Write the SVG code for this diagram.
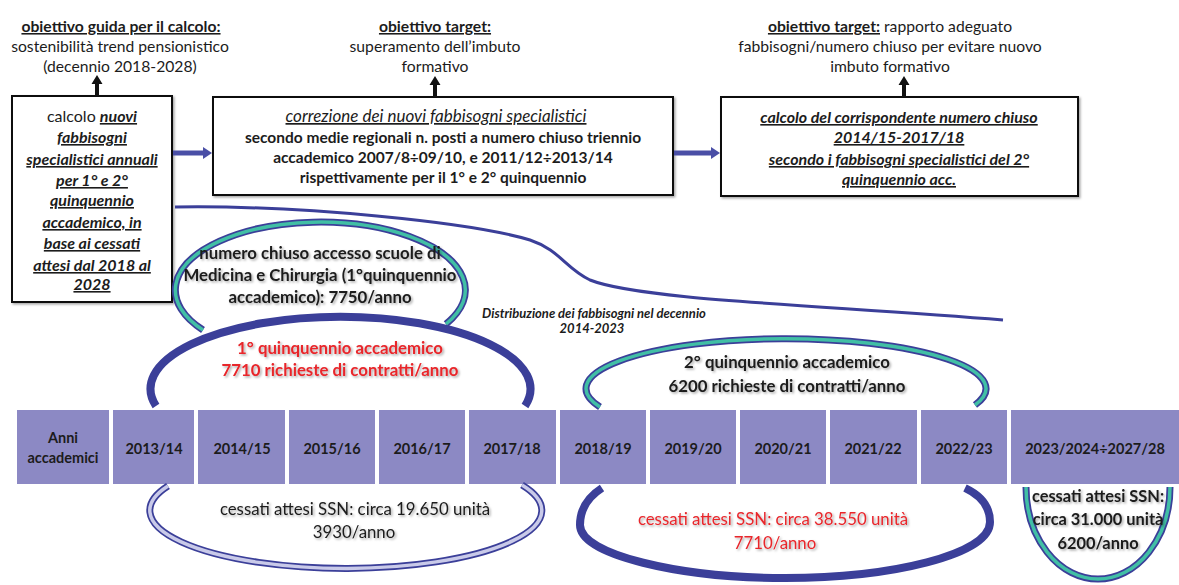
<svg xmlns="http://www.w3.org/2000/svg" width="1179" height="585" viewBox="0 0 1179 585">
<defs>
<style>
text{font-family:Lato,"Liberation Sans",sans-serif;fill:#1c1c1c;text-anchor:middle}
.n{font-size:15.7px}
.b{font-size:15.7px;font-weight:bold}
.u{text-decoration:underline}
.bi{font-size:16px;font-weight:bold;font-style:italic;text-decoration:underline}
.it{font-size:17px;font-style:italic;text-decoration:underline}
.mb{font-size:15.5px;font-weight:bold}
.box{fill:#fff;stroke:#111;stroke-width:2}
.cell{fill:#8c89c4}
.cl{font-size:14.5px;font-weight:bold}
.ab{font-size:16.8px;font-weight:bold}
.cs{font-size:16.8px}
.red{fill:#e8262b}
.navyline{fill:none;stroke:#3b3f99}
.tealin{fill:none;stroke:#41bfa5;stroke-width:3.5}
.lavin{fill:none;stroke:#c9cae9;stroke-width:3.5}
.dist{font-size:13px;font-weight:bold;font-style:italic}
.blue{stroke:#4a4fa6;stroke-width:5;fill:none}
.up{fill:#111}
</style>
<filter id="sh" x="-5%" y="-10%" width="115%" height="130%">
<feDropShadow dx="1.5" dy="1.5" stdDeviation="1" flood-color="#000" flood-opacity="0.35"/>
</filter>
<marker id="bh" markerUnits="userSpaceOnUse" markerWidth="10" markerHeight="14" refX="2" refY="7" orient="auto">
<path d="M0,1 L9,7 L0,13 Z" fill="#4a4fa6"/>
</marker>
</defs>
<rect width="1179" height="585" fill="#fff"/>

<!-- top objective texts -->
<g id="obj1">
<text class="b u" x="121" y="32">obiettivo guida per il calcolo:</text>
<text class="n" x="120" y="52">sostenibilità trend pensionistico</text>
<text class="n" x="120" y="72">(decennio 2018-2028)</text>
</g>
<g id="obj2">
<text class="b u" x="435" y="32">obiettivo target:</text>
<text class="n" x="435" y="52">superamento dell’imbuto</text>
<text class="n" x="435" y="72">formativo</text>
</g>
<g id="obj3">
<text class="n" x="890" y="32"><tspan class="b u">obiettivo target:</tspan> rapporto adeguato</text>
<text class="n" x="890" y="52">fabbisogni/numero chiuso per evitare nuovo</text>
<text class="n" x="890" y="72">imbuto formativo</text>
</g>

<!-- boxes -->
<g id="box-calcolo">
<rect class="box" x="12" y="96" width="160" height="206" filter="url(#sh)"/>
<text class="n" style="font-size:16px" x="92" y="122">calcolo <tspan class="bi">nuovi</tspan></text>
<text class="bi" x="92" y="143">fabbisogni</text>
<text class="bi" x="92" y="165">specialistici annuali</text>
<text class="bi" x="92" y="186">per 1° e 2°</text>
<text class="bi" x="92" y="206">quinquennio</text>
<text class="bi" x="92" y="228">accademico, in</text>
<text class="bi" x="92" y="249">base ai cessati</text>
<text class="bi" x="92" y="271">attesi dal 2018 al</text>
<text class="bi" x="92" y="290">2028</text>
</g>
<g id="box-correzione">
<rect class="box" x="213" y="97" width="460" height="98" filter="url(#sh)"/>
<text class="it" x="436" y="122">correzione dei nuovi fabbisogni specialistici</text>
<text class="mb" x="443" y="143">secondo medie regionali n. posti a numero chiuso triennio</text>
<text class="mb" x="443" y="163">accademico 2007/8÷09/10, e 2011/12÷2013/14</text>
<text class="mb" x="443" y="183">rispettivamente per il 1° e 2° quinquennio</text>
</g>
<g id="box-numero">
<rect class="box" x="721" y="97" width="357" height="99" filter="url(#sh)"/>
<text class="bi" x="899" y="123">calcolo del corrispondente numero chiuso</text>
<text class="bi" x="899" y="143">2014/15-2017/18</text>
<text class="bi" x="899" y="165"> secondo i fabbisogni specialistici del 2°</text>
<text class="bi" x="899" y="185">quinquennio acc.</text>
</g>

<!-- connectors -->
<g id="connectors">
<path class="up" d="M95,96 L95,84 L91.5,84 L97,75 L102.5,84 L99,84 L99,96 Z"/>
<path class="up" d="M433,97 L433,85 L429.5,85 L435,76 L440.5,85 L437,85 L437,97 Z"/>
<path class="up" d="M902,97 L902,85 L898.5,85 L904,76 L909.5,85 L906,85 L906,97 Z"/>
<line class="blue" x1="173" y1="153" x2="205" y2="153" marker-end="url(#bh)"/>
<line class="blue" x1="674" y1="153" x2="713" y2="153" marker-end="url(#bh)"/>
<path class="navyline" stroke-width="3" d="M175,207 C300,205 470,222 530,240 C560,250 565,268 590,280 C640,300 820,305 1003,320"/>
</g>

<!-- arc: numero chiuso -->
<g id="arc-numero-chiuso">
<path class="navyline" stroke-width="7" d="M203,330 A145,68 0 1 1 446,324"/>
<path class="tealin" d="M203,330 A145,68 0 1 1 446,324"/>
<g filter="url(#sh)">
<text class="ab" x="320" y="259">numero chiuso accesso scuole di</text>
<text class="ab" x="320" y="281">Medicina e Chirurgia (1°quinquennio</text>
<text class="ab" x="320" y="303">accademico): 7750/anno</text>
</g>
</g>

<g id="label-distribuzione">
<text class="dist" x="594" y="318">Distribuzione dei fabbisogni nel decennio</text>
<text class="dist" x="592" y="333">2014-2023</text>
</g>

<!-- arc: 1° quinquennio -->
<g id="arc-quinquennio1">
<path class="navyline" stroke-width="8" d="M156,406 A190,72 0 1 1 525,406"/>
<g filter="url(#sh)">
<text class="ab red" x="340" y="354">1° quinquennio accademico</text>
<text class="ab red" x="340" y="376">7710 richieste di contratti/anno</text>
</g>
</g>

<!-- arc: 2° quinquennio -->
<g id="arc-quinquennio2">
<path class="navyline" stroke-width="7" d="M600,407 A200,50 0 1 1 975,405"/>
<path class="tealin" d="M600,407 A200,50 0 1 1 975,405"/>
<g filter="url(#sh)">
<text class="ab" x="787" y="368">2° quinquennio accademico</text>
<text class="ab" x="787" y="392">6200 richieste di contratti/anno</text>
</g>
</g>

<!-- timeline -->
<g id="timeline">
<rect class="cell" x="17" y="410" width="92" height="74"/>
<rect class="cell" x="113" y="410" width="81" height="74"/>
<rect class="cell" x="198" y="410" width="87" height="74"/>
<rect class="cell" x="289" y="410" width="86" height="74"/>
<rect class="cell" x="379" y="410" width="86" height="74"/>
<rect class="cell" x="469" y="410" width="87" height="74"/>
<rect class="cell" x="560" y="410" width="86" height="74"/>
<rect class="cell" x="650" y="410" width="86" height="74"/>
<rect class="cell" x="740" y="410" width="86" height="74"/>
<rect class="cell" x="830" y="410" width="87" height="74"/>
<rect class="cell" x="921" y="410" width="86" height="74"/>
<rect class="cell" x="1011" y="410" width="168" height="74"/>
<text class="cl" x="63" y="443">Anni</text>
<text class="cl" x="63" y="463">accademici</text>
<text class="cl" x="154" y="454">2013/14</text>
<text class="cl" x="242" y="454">2014/15</text>
<text class="cl" x="332" y="454">2015/16</text>
<text class="cl" x="422" y="454">2016/17</text>
<text class="cl" x="512" y="454">2017/18</text>
<text class="cl" x="603" y="454">2018/19</text>
<text class="cl" x="693" y="454">2019/20</text>
<text class="cl" x="783" y="454">2020/21</text>
<text class="cl" x="873" y="454">2021/22</text>
<text class="cl" x="964" y="454">2022/23</text>
<text class="cl" x="1095" y="454">2023/2024÷2027/28</text>
</g>

<!-- bottom arcs -->
<g id="arc-cessati1">
<path class="navyline" stroke-width="7" d="M168,486 A196,58 0 1 0 522,485"/>
<path class="lavin" d="M168,486 A196,58 0 1 0 522,485"/>
<g filter="url(#sh)">
<text class="cs" x="355" y="515">cessati attesi SSN: circa 19.650 unità</text>
<text class="cs" x="354" y="538">3930/anno</text>
</g>
</g>
<g id="arc-cessati2">
<path class="navyline" stroke-width="8" d="M602,488 C588,497 580,510 580,525 C580,555 680,578 785,578 C890,578 990,555 990,522 C990,508 982,496 965,488"/>
<g filter="url(#sh)">
<text class="cs red" x="773" y="525">cessati attesi SSN: circa 38.550 unità</text>
<text class="cs red" x="775" y="549">7710/anno</text>
</g>
</g>
<g id="arc-cessati3">
<path class="navyline" stroke-width="7" d="M1026,487 A72,92 0 0 0 1170,487"/>
<path class="tealin" d="M1026,487 A72,92 0 0 0 1170,487"/>
<g filter="url(#sh)">
<text class="ab" style="font-size:16.4px" x="1098" y="502">cessati attesi SSN:</text>
<text class="ab" style="font-size:16.4px" x="1098" y="525">circa 31.000 unità</text>
<text class="ab" style="font-size:16.4px" x="1098" y="549">6200/anno</text>
</g>
</g>
</svg>
